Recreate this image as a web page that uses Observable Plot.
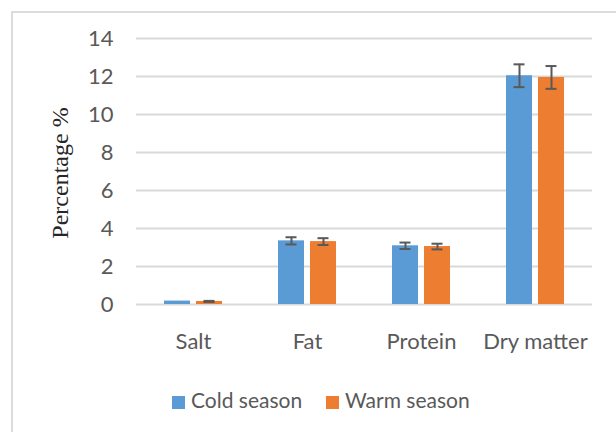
<!DOCTYPE html>
<html>
<head>
<meta charset="utf-8">
<script src="https://cdn.jsdelivr.net/npm/d3@7"></script>
<script src="https://cdn.jsdelivr.net/npm/@observablehq/plot@0.6"></script>
<style>
  html, body { margin: 0; padding: 0; background: #fff; overflow: hidden; width: 616px; height: 432px; }
  #frame { position: absolute; left: 11px; top: 11px; width: 700px; height: 520px; border: 2px solid #dcdcdc; box-sizing: border-box; }
  #chart { position: absolute; left: 0; top: 0; }
  #legend { position: absolute; left: 0; top: 387px; width: 616px; font-family: Lato, sans-serif; font-size: 21px; color: #595959; }
  .item { position: absolute; top: 0; white-space: nowrap; }
  .sw { position: absolute; width: 13px; height: 13px; top: 9px; }
</style>
</head>
<body>
<div id="frame"></div>
<div id="chart"></div>
<div id="legend"></div>
<script>
const categories = ["Salt", "Fat", "Protein", "Dry matter"];
const seasons = ["Cold season", "Warm season"];
const coldValues = [0.18, 3.35, 3.09, 12.04];
const warmValues = [0.16, 3.31, 3.05, 11.95];
const coldErr = [0, 0.19, 0.17, 0.6];
const warmErr = [0.03, 0.18, 0.15, 0.6];
const yTicks = [0, 2, 4, 6, 8, 10, 12, 14];
const colors = ["#5B9BD5", "#ED7D31"];

const data = [];
categories.forEach((c, i) => {
  data.push({category: c, season: seasons[0], value: coldValues[i], err: coldErr[i]});
  data.push({category: c, season: seasons[1], value: warmValues[i], err: warmErr[i]});
});
const errData = data.filter(d => d.err > 0);

const chart = Plot.plot({
  width: 616,
  height: 375,
  marginLeft: 136,
  marginRight: 24,
  marginTop: 38,
  marginBottom: 71,
  style: {fontFamily: "Lato, sans-serif", fontSize: "22px", color: "#595959", background: "transparent"},
  fx: {domain: categories, padding: 0, axis: "bottom", tickSize: 0, tickPadding: 29, label: null},
  x: {domain: seasons, axis: null, paddingInner: 0.1875, paddingOuter: 0.875},
  y: {domain: [0, 14], ticks: yTicks, tickSize: 0, tickPadding: 23, label: null},
  color: {domain: seasons, range: colors},
  marks: [
    Plot.gridY(yTicks, {stroke: "#d9d9d9", strokeOpacity: 1, strokeWidth: 2}),
    Plot.barY(data, {fx: "category", x: "season", y: "value", fill: "season"}),
    Plot.ruleX(errData, {fx: "category", x: "season", y1: d => d.value - d.err, y2: d => d.value + d.err, stroke: "#595959", strokeWidth: 2}),
    Plot.tickY(errData, {fx: "category", x: "season", y: d => d.value - d.err, stroke: "#595959", strokeWidth: 2, insetLeft: 7.5, insetRight: 7.5}),
    Plot.tickY(errData, {fx: "category", x: "season", y: d => d.value + d.err, stroke: "#595959", strokeWidth: 2, insetLeft: 7.5, insetRight: 7.5})
  ]
});
document.getElementById("chart").appendChild(chart);

// y-axis title (serif, rotated)
const svg = d3.select(chart);
svg.append("text")
  .attr("transform", "translate(68,173) rotate(-90)")
  .attr("text-anchor", "middle")
  .attr("font-family", "'Liberation Serif', 'Times New Roman', serif")
  .attr("font-size", 24)
  .attr("fill", "#262626")
  .text("Percentage %");

// legend
const legend = document.getElementById("legend");
const pos = [172, 326];
seasons.forEach((s, i) => {
  const sw = document.createElement("div");
  sw.className = "sw";
  sw.style.left = pos[i] + "px";
  sw.style.background = colors[i];
  legend.appendChild(sw);
  const t = document.createElement("div");
  t.className = "item";
  t.style.left = (pos[i] + 19) + "px";
  t.textContent = s;
  legend.appendChild(t);
});
</script>
</body>
</html>
